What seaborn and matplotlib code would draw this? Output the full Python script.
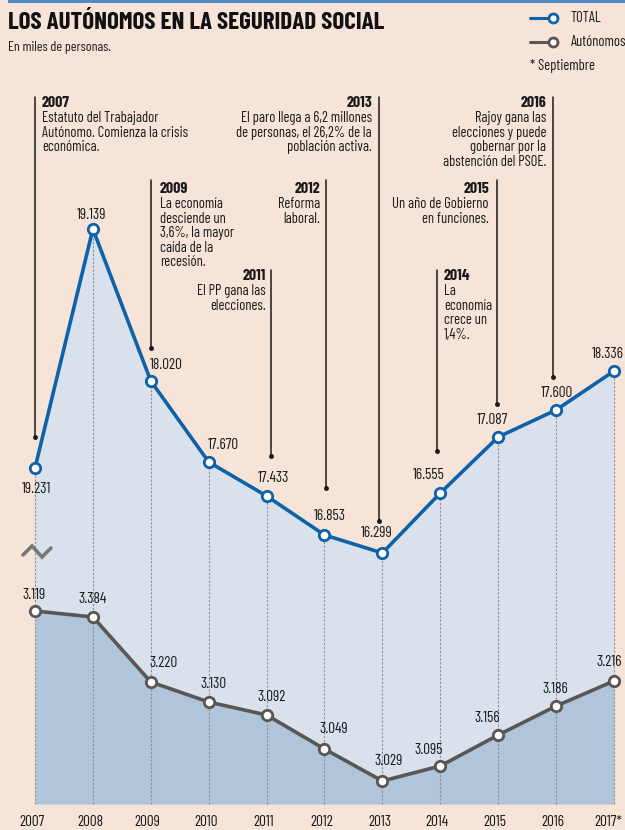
import matplotlib.pyplot as plt
from matplotlib.lines import Line2D
from matplotlib.patches import Rectangle
import seaborn as sns

# Data
years = [2007, 2008, 2009, 2010, 2011, 2012, 2013, 2014, 2015, 2016, 2017]
year_labels = ['2007', '2008', '2009', '2010', '2011', '2012', '2013', '2014', '2015', '2016', '2017*']
total_values = ['19.231', '19.139', '18.020', '17.670', '17.433', '16.853', '16.299', '16.555', '17.087', '17.600', '18.336']
auto_values = ['3.119', '3.384', '3.220', '3.130', '3.092', '3.049', '3.029', '3.095', '3.156', '3.186', '3.216']
# height of each point as drawn in the graphic (the axis is not to scale)
total_level = [336, 575, 423, 342, 308, 269, 251, 311, 367, 394, 433]
auto_level = [193, 187, 122, 102, 89, 55, 23, 38, 69, 98, 123]

event_years = [2007, 2009, 2011, 2012, 2013, 2014, 2015, 2016]
event_texts = [
    "Estatuto del Trabajador\nAutónomo. Comienza la crisis\neconómica.",
    "La economía\ndesciende un\n3,6%, la mayor\ncaída de la\nrecesión.",
    "El PP gana las\nelecciones.",
    "Reforma\nlaboral.",
    "El paro llega a 6,2 millones\nde personas, el 26,2% de la\npoblación activa.",
    "La\neconomía\ncrece un\n1,4%.",
    "Un año de Gobierno\nen funciones.",
    "Rajoy gana las\nelecciones y puede\ngobernar por la\nabstención del PSOE.",
]

BLUE = '#0f62a8'
GREY = '#595654'
BG = '#f6e4d8'
FILL_TOTAL = '#d9e1ec'
FILL_AUTO = '#b0c4da'
INK = '#1a1a1a'

sns.set_theme(style="white")
plt.rcParams['font.family'] = ['Barlow Condensed', 'DejaVu Sans']

W, H = 625, 830
fig = plt.figure(figsize=(W / 100, H / 100), dpi=100, facecolor=BG)
ax = fig.add_axes([0, 0, 1, 1])
ax.set_facecolor(BG)
ax.axis('off')

# 1 y unit = 1 pixel, baseline at 804 px from the top
ppy = 57.9
x0 = 2007 - 35 / ppy
ax.set_xlim(x0, x0 + W / ppy)
ax.set_ylim(-26, 804)


def px(x):
    return x0 + x / ppy


def py(y):
    return 804 - y


# areas
ax.fill_between(years, total_level, 0, color=FILL_TOTAL, lw=0, zorder=1)
ax.fill_between(years, auto_level, 0, color=FILL_AUTO, lw=0, zorder=2)
ax.vlines(years, 0, total_level, colors='#8e8e8e', linestyles=(0, (2, 1.5)), lw=0.8, zorder=3)

sns.lineplot(x=years, y=total_level, ax=ax, color=BLUE, lw=2.6, marker='o', ms=7.5,
             mfc='white', mec=BLUE, mew=2, zorder=5)
sns.lineplot(x=years, y=auto_level, ax=ax, color=GREY, lw=2.6, marker='o', ms=7.5,
             mfc='white', mec=GREY, mew=2, zorder=5)

# value labels (pixel offsets from each point)
total_off = [(2, -21), (-1, 14), (16, 16), (15, 17), (7, 18), (5, 19),
             (-6, 20), (-11, 18), (-6, 17), (1, 17), (-6, 17)]
auto_off = [(-1, 16), (0, 18), (13, 19), (5, 18), (5, 18), (9, 20),
            (6, 20), (-12, 16), (-11, 17), (-1, 17), (-5, 19)]
for yr, lv, lab, (dx, dy) in zip(years, total_level, total_values, total_off):
    ax.annotate(lab, (yr, lv), xytext=(dx, dy), textcoords='offset pixels',
                ha='center', va='center', fontsize=11, color=INK, zorder=6)
for yr, lv, lab, (dx, dy) in zip(years, auto_level, auto_values, auto_off):
    ax.annotate(lab, (yr, lv), xytext=(dx, dy), textcoords='offset pixels',
                ha='center', va='center', fontsize=11, color=INK, zorder=6)

# year labels
for yr, lab in zip(years, year_labels):
    shift = -6 if lab.endswith('*') else -3
    ax.annotate(lab, (yr, py(822)), xytext=(shift, 0), textcoords='offset pixels',
                ha='center', va='center', fontsize=11, color=INK)

# axis break mark
ax.plot([px(23), px(32), px(42), px(51)], [py(555), py(546), py(557), py(548)],
        color='#777777', lw=2.6, solid_joinstyle='miter', zorder=4)

# event annotations: line x, line top, line end, text x, text top, alignment
event_layout = [
    (35, 97, 437, 42, 96, 'left'),
    (151, 180, 348, 160, 182, 'left'),
    (271, 270, 456, 266, 269, 'right'),
    (326, 180, 488, 320, 182, 'right'),
    (379, 97, 521, 372, 96, 'right'),
    (437, 270, 451, 444, 269, 'left'),
    (497, 180, 404, 489, 182, 'right'),
    (553, 97, 377, 546, 96, 'right'),
]
for yr, txt, (lx, top, end, tx, ttop, ha) in zip(event_years, event_texts, event_layout):
    ax.plot([px(lx), px(lx)], [py(top), py(end)], color=INK, lw=1.1, zorder=4)
    ax.plot([px(lx)], [py(end)], 'o', color=INK, ms=2.5, zorder=4)
    ax.text(px(tx), py(ttop), str(yr), ha=ha, va='top', fontsize=11.5,
            fontweight='bold', color=INK)
    ax.text(px(tx), py(ttop + 15), txt, ha=ha, va='top', fontsize=10.5,
            color=INK, linespacing=1.05, multialignment=ha)

# header
fig.add_artist(Rectangle((8 / W, 1 - 3 / H), 1, 3 / H, color='#4d8ac2',
                         transform=fig.transFigure, lw=0))
fig.text(8 / W, 1 - 23 / H, "LOS AUTÓNOMOS EN LA SEGURIDAD SOCIAL", ha='left',
         va='center', fontsize=18, fontweight='bold', color='#111111')
fig.text(8 / W, 1 - 48 / H, "En miles de personas.", ha='left', va='center',
         fontsize=10, color=INK)

# legend
for yy, col, lab in [(18, BLUE, 'TOTAL'), (42, GREY, 'Autónomos')]:
    fig.add_artist(Line2D([530 / W, 553 / W], [1 - yy / H] * 2, color=col, lw=2.2,
                          marker='o', markevery=[1], ms=6.5, mfc='white', mec=col, mew=2,
                          transform=fig.transFigure))
    fig.text(571 / W, 1 - yy / H, lab, ha='left', va='center', fontsize=10.5, color=INK)
fig.text(530 / W, 1 - 66 / H, "* Septiembre", ha='left', va='center', fontsize=10.5, color=INK)

fig.savefig('out.png', dpi=100, facecolor=BG)
